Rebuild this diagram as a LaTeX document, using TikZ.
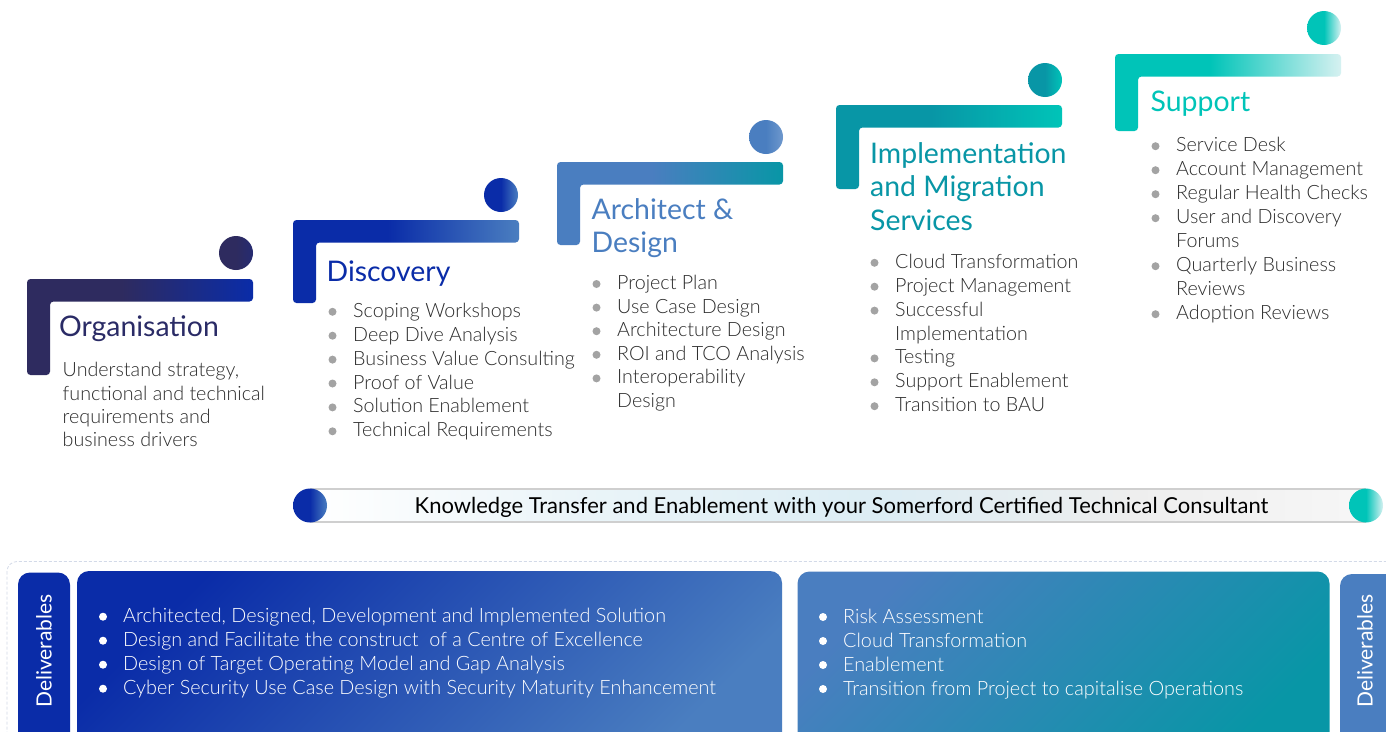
\documentclass[tikz,border=0pt]{standalone}
\usepackage{fontspec}
\setmainfont{Lato}
\newfontfamily\lightf{Lato Light}
\definecolor{navy}{HTML}{2E2B5F}
\definecolor{royal}{HTML}{0A2CA8}
\definecolor{steel}{HTML}{4A7EC0}
\definecolor{teal}{HTML}{0896A6}
\definecolor{aqua}{HTML}{00C4B8}
\definecolor{pale}{HTML}{D6F1F1}
\definecolor{bulgray}{HTML}{A3A3A3}
\definecolor{bodytxt}{HTML}{2B2B2B}
\definecolor{kbblue}{HTML}{DCEDF4}
\definecolor{kbgray}{HTML}{EEEEEE}
\definecolor{kbline}{HTML}{CFCFCF}
\definecolor{frame}{HTML}{D3DAE8}
\newcommand\mkbrk[3]{\pgfdeclarehorizontalshading{#1}{100bp}{color(0bp)=(#2); color(25bp)=(#2); color(46bp)=(#2); color(75bp)=(#3); color(100bp)=(#3)}}
\newcommand\mkcirc[3]{\pgfdeclarehorizontalshading{#1}{100bp}{color(0bp)=(#2); color(25bp)=(#2); color(50bp)=(#2); color(75bp)=(#3); color(100bp)=(#3)}}
\mkbrk{brkA}{navy}{royal}
\mkbrk{brkB}{royal}{steel}
\mkbrk{brkC}{steel}{teal}
\mkbrk{brkD}{teal}{aqua}
\mkbrk{brkE}{aqua}{pale}
\mkcirc{cirA}{navy}{navy!75!royal}
\mkcirc{cirB}{royal}{steel}
\mkcirc{cirC}{steel}{steel!80!white}
\mkcirc{cirD}{teal}{aqua}
\mkcirc{cirE}{aqua}{pale}
\pgfdeclarehorizontalshading{kbar}{100bp}{color(0bp)=(white); color(25bp)=(white); color(38bp)=(kbblue!60); color(52bp)=(kbblue); color(64bp)=(kbgray); color(75bp)=(kbgray!50); color(100bp)=(kbgray!50)}
\newcommand\brk[4]{\shade[shading=#4, rounded corners=3.5pt] (#1,#2) -- (#1+226,#2) -- (#1+226,#2+22.5) -- (#1+23,#2+22.5) -- (#1+23,#3) -- (#1,#3) -- cycle;}
\newcommand\itm[5]{\fill[#5] (#1-20.5,#2-5.5) circle (4); \node[itemtxt] (#3) at (#1,#2) {#4};}
\newcommand\witm[4]{\fill[white] (#1-20,#2-6) circle (4); \node[wtxt] (#3) at (#1,#2) {#4};}
\begin{document}
\begin{tikzpicture}[x=1pt,y=-1pt,
  itemtxt/.style={anchor=base west, inner sep=0pt, font=\lightf\fontsize{19.7}{24}\selectfont, text=bodytxt},
  wtxt/.style={anchor=base west, inner sep=0pt, font=\lightf\fontsize{19.8}{24}\selectfont, text=white},
  ttl/.style={anchor=base west, inner sep=0pt, font=\fontsize{28.4}{33}\selectfont},
  deliv/.style={rotate=90, inner sep=0pt, text=white, font=\fontsize{21}{24}\selectfont}]
\useasboundingbox (0,0) rectangle (1386,731);
\clip (0,0) rectangle (1386,731);
\fill[white] (0,0) rectangle (1386,731);

% ---- brackets and circles
\brk{27}{279}{375}{brkA}
\brk{293}{220}{303}{brkB}
\brk{557}{162}{245}{brkC}
\brk{836}{105}{189}{brkD}
\brk{1115}{54}{131}{brkE}
\shade[shading=cirA] (236,253) circle (17);
\shade[shading=cirB] (501,195) circle (17);
\shade[shading=cirC] (766,137) circle (17);
\shade[shading=cirD] (1045,80) circle (17);
\shade[shading=cirE] (1324,28) circle (17);

% ---- titles
\node[ttl, text=navy!90!royal] (tOrg) at (59,336) {Organisation};
\node[ttl, text=royal] (tDisc) at (326.5,281) {Discovery};
\node[ttl, text=steel] (tArch1) at (591.5,219.3) {Architect \&};
\node[ttl, text=steel] (tArch2) at (591.5,252.7) {Design};
\node[ttl, text=teal] (tImp1) at (870,163.3) {Implementation};
\node[ttl, text=teal] (tImp2) at (870,196.7) {and Migration};
\node[ttl, text=teal] (tImp3) at (870,230) {Services};
\node[ttl, text=aqua] (tSup) at (1150.5,111.7) {Support};

% ---- Organisation text
\node[itemtxt] (o1) at (62.5,376.7) {Understand strategy,};
\node[itemtxt] (o2) at (62.5,400) {functional and technical};
\node[itemtxt] (o3) at (62.5,423.3) {requirements and};
\node[itemtxt] (o4) at (62.5,446.7) {business drivers};

% ---- Discovery list
\itm{353}{317.3}{d1}{Scoping Workshops}{bulgray}
\itm{353}{341.2}{d2}{Deep Dive Analysis}{bulgray}
\itm{353}{365.1}{d3}{Business Value Consulting}{bulgray}
\itm{353}{389}{d4}{Proof of Value}{bulgray}
\itm{353}{412.9}{d5}{Solution Enablement}{bulgray}
\itm{353}{436.8}{d6}{Technical Requirements}{bulgray}

% ---- Architect list
\itm{617}{289.5}{a1}{Project Plan}{bulgray}
\itm{617}{313.1}{a2}{Use Case Design}{bulgray}
\itm{617}{336.7}{a3}{Architecture Design}{bulgray}
\itm{617}{360.3}{a4}{ROI and TCO Analysis}{bulgray}
\itm{617}{383.9}{a5}{Interoperability}{bulgray}
\node[itemtxt] (a6) at (617,407.5) {Design};

% ---- Implementation list
\itm{895}{268.3}{i1}{Cloud Transformation}{bulgray}
\itm{895}{292.2}{i2}{Project Management}{bulgray}
\itm{895}{316.1}{i3}{Successful}{bulgray}
\node[itemtxt] (i4) at (895,340) {Implementation};
\itm{895}{363.9}{i5}{Testing}{bulgray}
\itm{895}{387.8}{i6}{Support Enablement}{bulgray}
\itm{895}{411.7}{i7}{Transition to BAU}{bulgray}

% ---- Support list
\itm{1176}{151.7}{s1}{Service Desk}{bulgray}
\itm{1176}{175.7}{s2}{Account Management}{bulgray}
\itm{1176}{199.7}{s3}{Regular Health Checks}{bulgray}
\itm{1176}{223.7}{s4}{User and Discovery}{bulgray}
\node[itemtxt] (s5) at (1176,247.7) {Forums};
\itm{1176}{271.7}{s6}{Quarterly Business}{bulgray}
\node[itemtxt] (s7) at (1176,295.7) {Reviews};
\itm{1176}{319.7}{s8}{Adoption Reviews}{bulgray}

% ---- knowledge transfer bar
\shade[shading=kbar] (310,489) rectangle (1366,522);
\draw[kbline, line width=1.4pt] (310,489) -- (1366,489);
\draw[kbline, line width=1.4pt] (310,522) -- (1366,522);
\shade[shading=cirB] (310,505.5) circle (17);
\shade[shading=cirE] (1366,505.5) circle (17);
\node[anchor=base, inner sep=0pt, font=\fontsize{22}{24}\selectfont, text=black] (kt) at (841.5,513.3) {Knowledge Transfer and Enablement with your Somerford Certified Technical Consultant};

% ---- deliverables area
\draw[frame, line width=0.8pt, dash pattern=on 3pt off 2pt, rounded corners=10pt] (7,561.5) rectangle (1430,780);
\fill[royal, rounded corners=12pt] (18,572.5) rectangle (70,760);
\shade[top color=royal, bottom color=steel, shading angle=45, rounded corners=12pt] (77,571) rectangle (782,760);
\shade[top color=steel, bottom color=teal, shading angle=45, rounded corners=12pt] (797.5,571.5) rectangle (1329.5,760);
\fill[steel, rounded corners=12pt] (1340,574) rectangle (1420,760);
\node[deliv] (del1) at (44,651) {Deliverables};
\node[deliv] (del2) at (1365,651) {Deliverables};

\witm{123}{622.7}{b1}{Architected, Designed, Development and Implemented Solution}
\witm{123}{646.7}{b2}{Design and Facilitate the construct~ of a Centre of Excellence}
\witm{123}{670.7}{b3}{Design of Target Operating Model and Gap Analysis}
\witm{123}{694.7}{b4}{Cyber Security Use Case Design with Security Maturity Enhancement}

\witm{843}{623}{c1}{Risk Assessment}
\witm{843}{647}{c2}{Cloud Transformation}
\witm{843}{671}{c3}{Enablement}
\witm{843}{695}{c4}{Transition from Project to capitalise Operations}
\end{tikzpicture}
\end{document}
